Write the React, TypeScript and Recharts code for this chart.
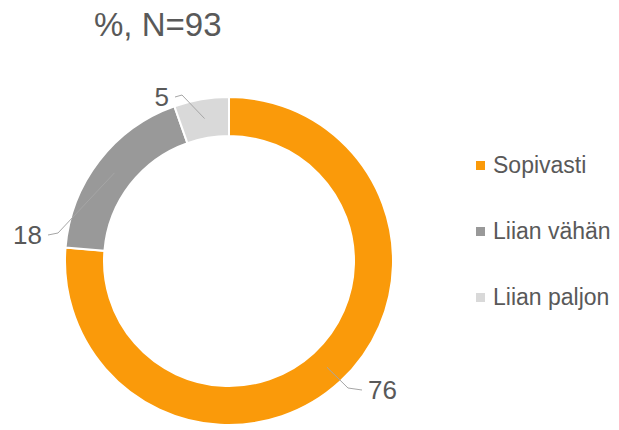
import { PieChart, Pie, Cell, Legend } from 'recharts'

const categories = ['Sopivasti', 'Liian vähän', 'Liian paljon']
const shares = [76.3, 18.3, 5.4]
const colors = ['#FA9A0A', '#999999', '#D9D9D9']
const title = '%, N=93'

const data = categories.map((name, i) => ({ name, value: shares[i] }))

// leader line elbow / end, relative to the pie centre
const labelLines = [
  { ex: 119, ey: 127, hx: 14, anchor: 'start' },
  { ex: -171, ey: -28, hx: -10, anchor: 'end' },
  { ex: -47, ey: -166, hx: -7, anchor: 'end' }
]

const RAD = Math.PI / 180

const renderLabel = (props: any) => {
  const { cx, cy, midAngle, innerRadius, outerRadius, value, index } = props
  const r = (innerRadius + outerRadius) / 2
  const sx = cx + r * Math.cos(-midAngle * RAD)
  const sy = cy + r * Math.sin(-midAngle * RAD)
  const l = labelLines[index]
  const mx = cx + l.ex
  const my = cy + l.ey
  const tx = mx + l.hx
  return (
    <g>
      <polyline
        points={`${sx},${sy} ${mx},${my} ${tx},${my + 2}`}
        fill='none'
        stroke='#A6A6A6'
        strokeWidth={1}
      />
      <text
        x={tx + (l.anchor === 'start' ? 6 : -6)}
        y={my + 2}
        textAnchor={l.anchor}
        dominantBaseline='central'
        fill='#595959'
        fontSize={26}
      >
        {Math.round(value)}
      </text>
    </g>
  )
}

// legend in the same order as the data, not the reversed payload
const renderLegend = () => (
  <div>
    {categories.map((name, i) => (
      <div
        key={`legend-${i}`}
        style={{
          display: 'flex',
          alignItems: 'center',
          height: 66,
          color: '#595959',
          fontSize: 23
        }}
      >
        <span
          style={{
            display: 'inline-block',
            width: 9,
            height: 9,
            background: colors[i],
            marginRight: 8
          }}
        />
        {name}
      </div>
    ))}
  </div>
)

export default function App() {
  return (
    <div
      style={{
        position: 'absolute',
        left: 0,
        top: 0,
        width: 619,
        height: 430,
        background: '#fff',
        fontFamily: '"Liberation Sans", Arial, sans-serif'
      }}
    >
      <div
        style={{
          position: 'absolute',
          left: 94,
          top: 5,
          fontSize: 33,
          color: '#595959',
          lineHeight: '40px'
        }}
      >
        {title}
      </div>
      <PieChart
        width={619}
        height={430}
        margin={{ top: 0, right: 0, bottom: 0, left: 0 }}
      >
        <Pie
          data={data}
          dataKey='value'
          nameKey='name'
          cx={229}
          cy={261}
          innerRadius={125}
          outerRadius={164}
          startAngle={90}
          endAngle={-270}
          stroke='#fff'
          strokeWidth={2}
          label={renderLabel}
          labelLine={false}
          isAnimationActive={false}
        >
          {data.map((entry, index) => (
            <Cell key={`cell-${index}`} fill={colors[index]} />
          ))}
        </Pie>
        <Legend
          layout='vertical'
          content={renderLegend}
          wrapperStyle={{ position: 'absolute', left: 476, top: 132, width: 143 }}
        />
      </PieChart>
    </div>
  )
}
